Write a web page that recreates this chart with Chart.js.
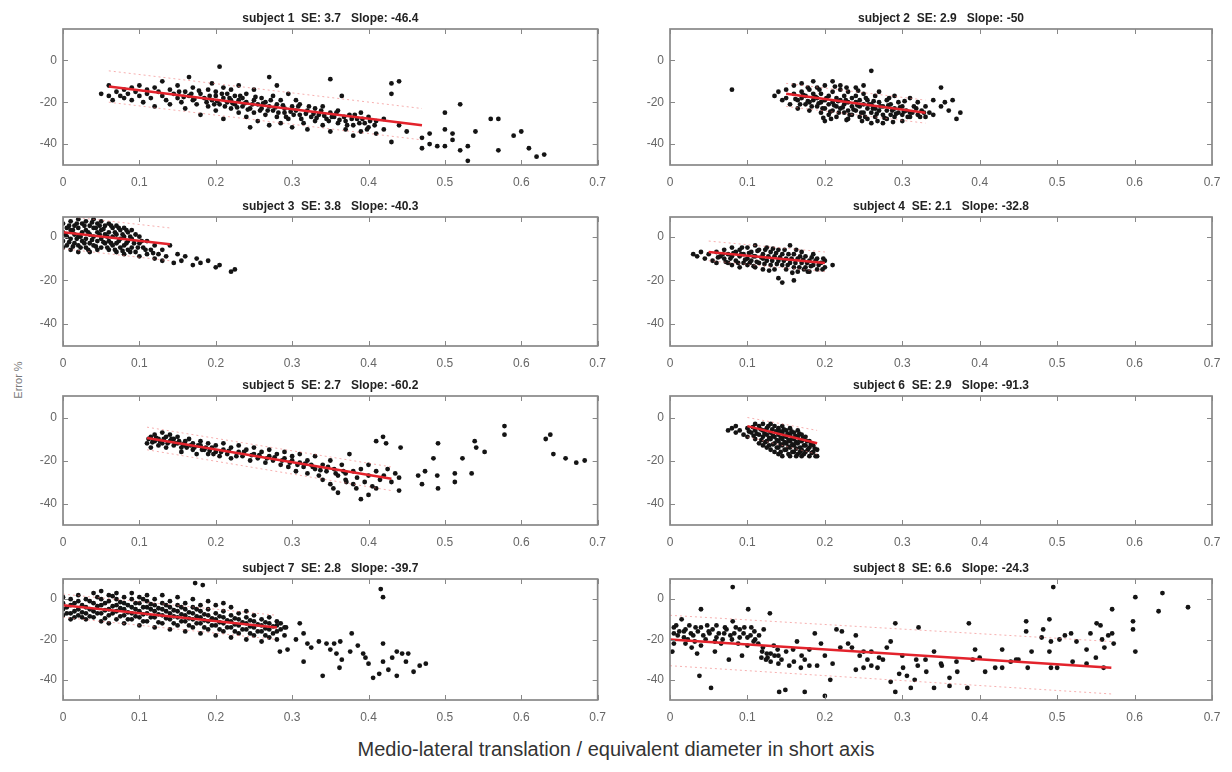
<!DOCTYPE html>
<html>
<head>
<meta charset="utf-8">
<script src="https://cdn.jsdelivr.net/npm/chart.js@4.4.1/dist/chart.umd.min.js"></script>
<style>
  body { margin:0; background:#fff; width:1232px; height:772px; position:relative; overflow:hidden; font-family:"Liberation Sans", Arial, sans-serif; }
  canvas { position:absolute; }
  #ylab { position:absolute; left:18px; top:380px; transform:translate(-50%,-50%) rotate(-90deg); font-size:11px; color:#777; white-space:nowrap; }
  #xlab { position:absolute; left:0; width:1232px; top:738px; text-align:center; font-size:20px; color:#333; }
</style>
</head>
<body>
<div id="ylab">Error %</div>
<div id="xlab">Medio-lateral translation / equivalent diameter in short axis</div>
<script>
// --- data ---
const titles = [
  'subject 1  SE: 3.7   Slope: -46.4', 'subject 2  SE: 2.9   Slope: -50',
  'subject 3  SE: 3.8   Slope: -40.3', 'subject 4  SE: 2.1   Slope: -32.8',
  'subject 5  SE: 2.7   Slope: -60.2', 'subject 6  SE: 2.9   Slope: -91.3',
  'subject 7  SE: 2.8   Slope: -39.7', 'subject 8  SE: 6.6   Slope: -24.3'
];
const xTickVals = [0, 0.1, 0.2, 0.3, 0.4, 0.5, 0.6, 0.7];
const yTickVals = [-40, -20, 0];
const yMaxByRow = [15, 9, 10, 10];

// regression line [x0, y0, x1, y1]
const fitLines = [
  [0.06, -12.5, 0.47, -31], [0.15, -16, 0.33, -25],
  [0, 2, 0.14, -3.5],       [0.05, -7, 0.2, -12],
  [0.11, -9.5, 0.43, -28.5],[0.1, -4, 0.19, -12],
  [0, -3, 0.28, -14],       [0, -20, 0.57, -34]
];
// dashed prediction bounds
const bandUpper = [
  [0.06, -5, 0.47, -23],  [0.15, -11, 0.33, -19],
  [0, 9.5, 0.14, 4],      [0.05, -2, 0.2, -7],
  [0.11, -4.5, 0.43, -23],[0.1, 0, 0.19, -6],
  [0, 2.5, 0.28, -8],     [0, -8, 0.57, -21]
];
const bandLower = [
  [0.06, -20, 0.47, -38], [0.15, -22, 0.33, -30],
  [0, -5.5, 0.14, -11],   [0.05, -11, 0.2, -16],
  [0.11, -15, 0.43, -34], [0.1, -9, 0.19, -17],
  [0, -9, 0.28, -20],     [0, -33, 0.57, -47]
];

const s1 = [[0.05,-16],[0.06,-12],[0.06,-17],[0.065,-19],[0.07,-15],[0.075,-17],[0.08,-14],[0.08,-18],[0.085,-16],[0.09,-13],[0.09,-19],[0.095,-15],[0.1,-17],[0.1,-12],[0.105,-20],[0.11,-14],[0.11,-16],[0.115,-18],[0.12,-13],[0.12,-22],[0.125,-15],[0.13,-17],[0.13,-10],[0.135,-19],[0.14,-14],[0.14,-21],[0.145,-16],[0.15,-18],[0.15,-12],[0.155,-20],[0.16,-15],[0.16,-23],[0.165,-17],[0.165,-8],[0.17,-19],[0.17,-13],[0.175,-21],[0.18,-16],[0.18,-26],[0.185,-18],[0.19,-14],[0.19,-22],[0.195,-19],[0.195,-11],[0.2,-17],[0.2,-24],[0.2,-15],[0.205,-21],[0.205,-3],[0.21,-18],[0.21,-13],[0.21,-28],[0.215,-20],[0.215,-16],[0.22,-23],[0.22,-19],[0.22,-14],[0.225,-21],[0.225,-17],[0.23,-25],[0.23,-19],[0.23,-12],[0.235,-22],[0.235,-18],[0.24,-20],[0.24,-16],[0.24,-27],[0.245,-23],[0.245,-32],[0.25,-19],[0.25,-25],[0.25,-14],[0.255,-21],[0.255,-29],[0.26,-23],[0.26,-18],[0.265,-26],[0.265,-20],[0.27,-22],[0.27,-8],[0.27,-31],[0.275,-17],[0.275,-24],[0.28,-21],[0.28,-27],[0.28,-12],[0.285,-19],[0.285,-30],[0.29,-23],[0.29,-25],[0.295,-16],[0.295,-28],[0.3,-22],[0.3,-32],[0.305,-24],[0.305,-19],[0.31,-26],[0.31,-21],[0.315,-30],[0.32,-24],[0.32,-33],[0.325,-27],[0.33,-23],[0.33,-29],[0.335,-26],[0.34,-31],[0.34,-22],[0.345,-28],[0.35,-9],[0.35,-25],[0.35,-34],[0.355,-27],[0.36,-30],[0.36,-24],[0.365,-17],[0.37,-29],[0.37,-33],[0.375,-26],[0.38,-31],[0.38,-36],[0.385,-28],[0.39,-25],[0.39,-34],[0.395,-30],[0.4,-27],[0.4,-32],[0.41,-29],[0.41,-35],[0.42,-33],[0.42,-28],[0.43,-11],[0.43,-16],[0.43,-39],[0.44,-10],[0.44,-31],[0.45,-34],[0.47,-37],[0.47,-42],[0.48,-35],[0.48,-40],[0.49,-41],[0.5,-25],[0.5,-33],[0.5,-41],[0.51,-38],[0.51,-35],[0.52,-21],[0.52,-43],[0.53,-41],[0.53,-48],[0.54,-34],[0.56,-28],[0.57,-28],[0.57,-43],[0.59,-36],[0.6,-34],[0.61,-42],[0.62,-46],[0.63,-45],
  [0.152,-15],[0.158,-17.5],[0.168,-16],[0.172,-18.5],[0.178,-14.5],[0.188,-20],[0.192,-17],[0.198,-21],[0.202,-19.5],[0.208,-16],[0.212,-22],[0.218,-18],[0.222,-20.5],[0.228,-22.5],[0.232,-17],[0.238,-20.5],[0.242,-23.5],[0.248,-21],[0.252,-17.5],[0.258,-24],[0.262,-20.5],[0.268,-24],[0.272,-19],[0.278,-22.5],[0.282,-25],[0.288,-21.5],[0.292,-27],[0.298,-24.5],[0.302,-26],[0.308,-22],[0.312,-28],[0.318,-25.5],[0.322,-22],[0.328,-25.5],[0.332,-27.5],[0.338,-24],[0.342,-26.5],[0.348,-29],[0.352,-27],[0.358,-25],[0.362,-28.5],[0.368,-27],[0.372,-31],[0.378,-28],[0.382,-26],[0.388,-30],[0.392,-28],[0.398,-33],[0.402,-29],[0.408,-31]];

const s2 = [[0.08,-14],[0.135,-17],[0.14,-15],[0.145,-19],[0.15,-14],[0.15,-18],[0.155,-21],[0.16,-16],[0.16,-12],[0.165,-19],[0.165,-23],[0.17,-15],[0.17,-18],[0.17,-11],[0.175,-21],[0.175,-17],[0.18,-14],[0.18,-20],[0.18,-24],[0.185,-16],[0.185,-19],[0.185,-10],[0.19,-22],[0.19,-18],[0.19,-13],[0.195,-20],[0.195,-25],[0.195,-16],[0.2,-19],[0.2,-23],[0.2,-12],[0.2,-29],[0.205,-17],[0.205,-21],[0.205,-26],[0.21,-15],[0.21,-20],[0.21,-24],[0.21,-10],[0.215,-18],[0.215,-22],[0.215,-27],[0.22,-14],[0.22,-19],[0.22,-23],[0.22,-12],[0.225,-21],[0.225,-25],[0.225,-17],[0.23,-20],[0.23,-24],[0.23,-15],[0.23,-28],[0.235,-18],[0.235,-22],[0.235,-26],[0.24,-13],[0.24,-20],[0.24,-24],[0.24,-17],[0.245,-22],[0.245,-27],[0.245,-19],[0.25,-21],[0.25,-25],[0.25,-16],[0.25,-12],[0.255,-23],[0.255,-19],[0.255,-28],[0.26,-5],[0.26,-21],[0.26,-25],[0.26,-30],[0.265,-17],[0.265,-23],[0.265,-27],[0.27,-20],[0.27,-24],[0.27,-15],[0.275,-22],[0.275,-26],[0.275,-30],[0.28,-19],[0.28,-24],[0.28,-28],[0.285,-21],[0.285,-26],[0.29,-17],[0.29,-23],[0.29,-27],[0.295,-25],[0.295,-20],[0.3,-22],[0.3,-26],[0.3,-29],[0.305,-24],[0.31,-18],[0.31,-25],[0.31,-27],[0.315,-22],[0.32,-26],[0.32,-20],[0.325,-24],[0.33,-27],[0.33,-22],[0.335,-25],[0.34,-19],[0.34,-26],[0.35,-22],[0.35,-13],[0.355,-20],[0.36,-24],[0.365,-19],[0.37,-28],[0.375,-25],
  [0.162,-18.5],[0.168,-21],[0.172,-16.5],[0.178,-19.5],[0.183,-22],[0.188,-17.5],[0.192,-20.5],[0.197,-23],[0.202,-18],[0.207,-24.5],[0.212,-21.5],[0.217,-19.5],[0.218,-25],[0.223,-22.5],[0.227,-19],[0.232,-26],[0.237,-23.5],[0.242,-21.5],[0.247,-25],[0.252,-27],[0.257,-21],[0.262,-23],[0.267,-25.5],[0.272,-22],[0.277,-27.5],[0.282,-21.5],[0.287,-24],[0.292,-25.5],[0.297,-22.5],[0.302,-24.5],[0.307,-27],[0.313,-25],[0.318,-23],[0.323,-27],[0.328,-25],[0.198,-27.5],[0.208,-28],[0.228,-28.5],[0.248,-29],[0.268,-29],[0.288,-29.5],[0.243,-14.5],[0.228,-13],[0.213,-12.5],[0.193,-14],[0.253,-18],[0.263,-19.5],[0.283,-18],[0.303,-19.5],[0.178,-13]];

const s3 = [[0,6],[0,2],[0,-2],[0,-5],[0.005,4],[0.005,0],[0.005,-4],[0.01,7],[0.01,3],[0.01,-1],[0.01,-6],[0.015,5],[0.015,1],[0.015,-3],[0.02,8],[0.02,4],[0.02,0],[0.02,-4],[0.02,-7],[0.025,6],[0.025,2],[0.025,-2],[0.03,7],[0.03,3],[0.03,-1],[0.03,-5],[0.035,5],[0.035,1],[0.035,-3],[0.035,-7],[0.04,8],[0.04,4],[0.04,0],[0.04,-4],[0.045,6],[0.045,2],[0.045,-2],[0.045,-6],[0.05,7],[0.05,3],[0.05,-1],[0.05,-5],[0.055,5],[0.055,1],[0.055,-3],[0.06,6],[0.06,2],[0.06,-2],[0.06,-6],[0.065,4],[0.065,0],[0.065,-4],[0.07,5],[0.07,1],[0.07,-3],[0.07,-7],[0.075,3],[0.075,-1],[0.075,-5],[0.08,4],[0.08,0],[0.08,-4],[0.08,-8],[0.085,2],[0.085,-2],[0.085,-6],[0.09,3],[0.09,-1],[0.09,-5],[0.095,1],[0.095,-7],[0.1,-3],[0.1,-9],[0.1,0],[0.105,-5],[0.11,-8],[0.11,-2],[0.115,-6],[0.12,-10],[0.12,-4],[0.125,-8],[0.13,-6],[0.13,-11],[0.135,-9],[0.14,-4],[0.145,-12],[0.15,-8],[0.155,-11],[0.16,-9],[0.17,-13],[0.175,-10],[0.18,-12],[0.19,-11],[0.2,-14],[0.205,-13],[0.22,-16],[0.225,-15],
  [0.003,1],[0.008,5],[0.008,-2.5],[0.013,3],[0.013,-4.5],[0.018,6],[0.018,-1],[0.023,0],[0.023,-5],[0.028,5],[0.028,-3],[0.033,2],[0.033,-6],[0.038,6.5],[0.038,-1.5],[0.043,4],[0.043,-4.5],[0.048,1],[0.048,5],[0.053,-2.5],[0.053,3.5],[0.058,0],[0.058,-5],[0.063,5],[0.063,-3],[0.068,2],[0.068,-6],[0.073,4],[0.073,-2],[0.078,1],[0.078,-6.5],[0.083,3],[0.083,-3],[0.088,0],[0.088,-7],[0.093,-3],[0.098,-5],[0.103,-2],[0.108,-6],[0.118,-7.5]];

const s4 = [[0.03,-8],[0.035,-9],[0.04,-7],[0.045,-10],[0.05,-8],[0.055,-11],[0.06,-7],[0.06,-12],[0.065,-9],[0.07,-6],[0.07,-10],[0.075,-8],[0.075,-12],[0.08,-5],[0.08,-9],[0.08,-13],[0.085,-7],[0.085,-11],[0.09,-6],[0.09,-9],[0.09,-14],[0.095,-8],[0.095,-12],[0.1,-5],[0.1,-10],[0.1,-13],[0.105,-7],[0.105,-11],[0.11,-4],[0.11,-9],[0.11,-14],[0.115,-6],[0.115,-12],[0.12,-8],[0.12,-10],[0.12,-15],[0.125,-5],[0.125,-11],[0.13,-7],[0.13,-13],[0.135,-9],[0.135,-15],[0.14,-6],[0.14,-11],[0.14,-19],[0.145,-8],[0.145,-13],[0.145,-21],[0.15,-10],[0.15,-15],[0.155,-4],[0.155,-12],[0.16,-8],[0.16,-14],[0.16,-20],[0.165,-10],[0.165,-16],[0.17,-7],[0.17,-12],[0.175,-9],[0.175,-14],[0.18,-11],[0.18,-16],[0.185,-8],[0.185,-13],[0.19,-10],[0.19,-15],[0.195,-12],[0.2,-11],[0.2,-14],[0.21,-13],
  [0.062,-9.5],[0.068,-8],[0.072,-11.5],[0.078,-10],[0.082,-7.5],[0.088,-12],[0.092,-8],[0.097,-10.5],[0.102,-7.5],[0.103,-12],[0.108,-9],[0.112,-11.5],[0.113,-6.5],[0.118,-9.5],[0.122,-12.5],[0.123,-6],[0.127,-9],[0.132,-11],[0.133,-5.5],[0.137,-7.5],[0.138,-12.5],[0.142,-9.5],[0.147,-11],[0.148,-6],[0.152,-13],[0.153,-8],[0.157,-10],[0.162,-12],[0.163,-6],[0.167,-14],[0.168,-9],[0.172,-10.5],[0.173,-15],[0.177,-12],[0.182,-13.5],[0.183,-9.5],[0.188,-11],[0.192,-13],[0.197,-15],[0.198,-10],[0.128,-15.5],[0.108,-13.5],[0.158,-16.5],[0.178,-16],[0.093,-5]];

const s5 = [[0.11,-12],[0.115,-9],[0.115,-14],[0.12,-8],[0.12,-11],[0.125,-13],[0.125,-10],[0.13,-7],[0.13,-12],[0.135,-9],[0.135,-14],[0.14,-11],[0.14,-8],[0.145,-13],[0.145,-10],[0.15,-12],[0.15,-9],[0.155,-14],[0.155,-16],[0.16,-11],[0.16,-13],[0.165,-10],[0.17,-15],[0.17,-12],[0.175,-17],[0.18,-13],[0.18,-11],[0.185,-15],[0.19,-12],[0.19,-17],[0.195,-14],[0.2,-16],[0.2,-13],[0.205,-18],[0.21,-15],[0.21,-12],[0.215,-17],[0.22,-14],[0.22,-19],[0.23,-16],[0.23,-13],[0.235,-18],[0.24,-15],[0.245,-20],[0.25,-17],[0.25,-14],[0.255,-19],[0.26,-16],[0.265,-21],[0.27,-18],[0.27,-15],[0.275,-20],[0.28,-17],[0.285,-22],[0.29,-19],[0.29,-16],[0.295,-23],[0.3,-20],[0.3,-18],[0.305,-25],[0.31,-21],[0.31,-17],[0.315,-23],[0.32,-20],[0.32,-26],[0.325,-22],[0.33,-24],[0.33,-18],[0.335,-27],[0.34,-22],[0.34,-29],[0.345,-25],[0.35,-20],[0.35,-31],[0.355,-24],[0.36,-27],[0.36,-35],[0.365,-22],[0.37,-26],[0.37,-29],[0.375,-17],[0.38,-25],[0.38,-31],[0.385,-28],[0.39,-24],[0.39,-38],[0.395,-30],[0.4,-27],[0.4,-22],[0.405,-32],[0.41,-25],[0.415,-29],[0.42,-27],[0.425,-24],[0.43,-30],[0.435,-26],[0.44,-28],[0.578,-4],[0.578,-8],[0.638,-8],[0.632,-10],[0.642,-17],[0.658,-19],[0.672,-21],[0.683,-20],[0.539,-11],[0.541,-14],[0.552,-16],[0.491,-12],[0.523,-19],[0.485,-19],[0.474,-25],[0.49,-27],[0.513,-26],[0.535,-26],[0.513,-30],[0.491,-33],[0.47,-31],[0.465,-27],[0.442,-14],[0.419,-9],[0.41,-11],[0.423,-12],[0.44,-34],[0.4,-36],[0.41,-33],[0.384,-33],[0.354,-33],[0.371,-30],
  [0.112,-10],[0.117,-11.5],[0.122,-9.5],[0.127,-11],[0.132,-10],[0.137,-12],[0.142,-10],[0.147,-12],[0.152,-11],[0.157,-12.5],[0.162,-14],[0.167,-13],[0.172,-14],[0.177,-13],[0.182,-15],[0.187,-14],[0.192,-15.5],[0.197,-17],[0.207,-16],[0.217,-15.5],[0.227,-18],[0.237,-16],[0.247,-17.5],[0.257,-17.5],[0.267,-19],[0.277,-18.5],[0.287,-20],[0.297,-21],[0.307,-22],[0.317,-21.5],[0.327,-23],[0.337,-24.5],[0.347,-23],[0.357,-26],[0.367,-25]];

const s6 = [[0.075,-6],[0.08,-5],[0.085,-4],[0.085,-7],[0.09,-6],[0.095,-8],[0.1,-5],[0.1,-9],[0.105,-7],[0.11,-3],[0.11,-6],[0.11,-10],[0.115,-4],[0.115,-8],[0.115,-12],[0.12,-3],[0.12,-6],[0.12,-9],[0.12,-13],[0.125,-5],[0.125,-8],[0.125,-11],[0.125,-14],[0.13,-3],[0.13,-7],[0.13,-10],[0.13,-15],[0.135,-4],[0.135,-9],[0.135,-12],[0.135,-16],[0.14,-5],[0.14,-8],[0.14,-11],[0.14,-14],[0.14,-17],[0.145,-4],[0.145,-7],[0.145,-10],[0.145,-13],[0.145,-18],[0.15,-6],[0.15,-9],[0.15,-12],[0.15,-15],[0.155,-5],[0.155,-8],[0.155,-11],[0.155,-14],[0.155,-18],[0.16,-7],[0.16,-10],[0.16,-13],[0.16,-16],[0.165,-6],[0.165,-9],[0.165,-12],[0.165,-17],[0.17,-8],[0.17,-11],[0.17,-15],[0.17,-18],[0.175,-9],[0.175,-13],[0.175,-16],[0.18,-11],[0.18,-14],[0.18,-18],[0.185,-13],[0.185,-16],[0.19,-15],[0.19,-18],
  [0.102,-6.5],[0.107,-4.5],[0.108,-8.5],[0.112,-7.5],[0.117,-5.5],[0.118,-10.5],[0.122,-7.5],[0.123,-11.5],[0.127,-4],[0.128,-9.5],[0.128,-13],[0.132,-5.5],[0.133,-8.5],[0.133,-12.5],[0.137,-6.5],[0.138,-10.5],[0.138,-14],[0.142,-6.5],[0.143,-9.5],[0.143,-12.5],[0.143,-16],[0.147,-5.5],[0.148,-8.5],[0.148,-11.5],[0.148,-15],[0.152,-7.5],[0.153,-10.5],[0.153,-13.5],[0.153,-17],[0.157,-6.5],[0.158,-9.5],[0.158,-12.5],[0.158,-16],[0.162,-8.5],[0.163,-11.5],[0.163,-14.5],[0.163,-18],[0.167,-7.5],[0.168,-10.5],[0.168,-14],[0.168,-16],[0.172,-9.5],[0.173,-13],[0.173,-17],[0.177,-11],[0.178,-15],[0.182,-12.5],[0.183,-16.5],[0.187,-14.5],[0.188,-18]];

const s7 = [[0,-2],[0,-5],[0,-8],[0,1],[0.01,-3],[0.01,-7],[0.01,0],[0.01,-10],[0.02,-1],[0.02,-5],[0.02,-8],[0.02,2],[0.03,-4],[0.03,-7],[0.03,0],[0.03,-10],[0.04,-2],[0.04,-6],[0.04,-9],[0.04,3],[0.05,-3],[0.05,-7],[0.05,0],[0.05,-11],[0.05,4],[0.06,-1],[0.06,-5],[0.06,-8],[0.06,2],[0.06,-12],[0.07,-3],[0.07,-6],[0.07,-10],[0.07,0],[0.07,3],[0.08,-2],[0.08,-5],[0.08,-8],[0.08,-12],[0.08,1],[0.09,-4],[0.09,-7],[0.09,-10],[0.09,0],[0.09,3],[0.1,-2],[0.1,-6],[0.1,-9],[0.1,-13],[0.1,1],[0.11,-4],[0.11,-7],[0.11,-11],[0.11,-1],[0.11,2],[0.12,-3],[0.12,-6],[0.12,-9],[0.12,-14],[0.12,0],[0.13,-5],[0.13,-8],[0.13,-12],[0.13,-2],[0.13,2],[0.14,-4],[0.14,-7],[0.14,-10],[0.14,-15],[0.14,-1],[0.15,-6],[0.15,-9],[0.15,-13],[0.15,-3],[0.15,1],[0.16,-5],[0.16,-8],[0.16,-11],[0.16,-16],[0.16,-2],[0.17,-7],[0.17,-10],[0.17,-14],[0.17,-4],[0.17,0],[0.18,-6],[0.18,-9],[0.18,-12],[0.18,-17],[0.18,-3],[0.19,-8],[0.19,-11],[0.19,-15],[0.19,-5],[0.19,-1],[0.2,-7],[0.2,-10],[0.2,-13],[0.2,-18],[0.2,-3],[0.21,-9],[0.21,-12],[0.21,-16],[0.21,-6],[0.21,-2],[0.22,-8],[0.22,-11],[0.22,-14],[0.22,-19],[0.22,-4],[0.23,-10],[0.23,-13],[0.23,-17],[0.23,-7],[0.24,-9],[0.24,-12],[0.24,-15],[0.24,-20],[0.24,-6],[0.25,-11],[0.25,-14],[0.25,-18],[0.25,-8],[0.26,-10],[0.26,-13],[0.26,-16],[0.26,-21],[0.27,-12],[0.27,-15],[0.27,-19],[0.27,-9],[0.28,-13],[0.28,-16],[0.28,-20],[0.28,-11],[0.29,-14],[0.29,-18],[0.173,8],[0.183,7],[0.416,5],[0.419,1],[0.419,-22],[0.31,-12],[0.292,-14],[0.315,-17],[0.305,-20],[0.32,-22],[0.325,-24],[0.335,-21],[0.345,-22],[0.355,-22],[0.363,-21],[0.35,-25],[0.358,-27],[0.365,-30],[0.362,-34],[0.34,-38],[0.315,-31],[0.294,-25],[0.284,-26],[0.376,-26],[0.386,-23],[0.393,-27],[0.396,-29],[0.4,-32],[0.406,-39],[0.414,-37],[0.426,-35],[0.419,-31],[0.437,-26],[0.444,-27],[0.449,-31],[0.437,-38],[0.459,-36],[0.467,-33],[0.475,-32],[0.431,-29],[0.378,-17],[0.452,-27],
  [0.005,-4],[0.005,-7],[0.015,-2],[0.015,-6],[0.015,-9],[0.025,-3],[0.025,-6.5],[0.025,-9],[0.035,-1],[0.035,-5],[0.035,-8.5],[0.045,-3.5],[0.045,-7],[0.045,1],[0.055,-2],[0.055,-5.5],[0.055,-9.5],[0.065,-3.5],[0.065,-7],[0.065,1.5],[0.075,-1.5],[0.075,-4.5],[0.075,-8.5],[0.085,-3],[0.085,-6.5],[0.085,-10],[0.095,-2],[0.095,-5],[0.095,-8.5],[0.105,-4],[0.105,-7.5],[0.105,-11],[0.105,0],[0.115,-5],[0.115,-9],[0.115,-2.5],[0.125,-4.5],[0.125,-7.5],[0.125,-11.5],[0.135,-6],[0.135,-9.5],[0.135,-3],[0.145,-5.5],[0.145,-8.5],[0.145,-12],[0.155,-7.5],[0.155,-11],[0.155,-4],[0.165,-6.5],[0.165,-9.5],[0.165,-13],[0.175,-8.5],[0.175,-12],[0.175,-5],[0.185,-7.5],[0.185,-10.5],[0.185,-14],[0.195,-9.5],[0.195,-13],[0.205,-8.5],[0.205,-11.5],[0.205,-15],[0.215,-10.5],[0.215,-14],[0.225,-9.5],[0.225,-12.5],[0.225,-16],[0.235,-11.5],[0.235,-15],[0.245,-10.5],[0.245,-13.5],[0.245,-17],[0.255,-12.5],[0.255,-16],[0.265,-11.5],[0.265,-14.5],[0.265,-18],[0.275,-13.5],[0.275,-17],[0.285,-15],[0.285,-12]];

const s8 = [[0.081,6],[0.601,1],[0.636,3],[0.631,-6],[0.669,-4],[0.495,6],[0.598,-11],[0.598,-15],[0.601,-26],[0.571,-5],[0.49,-10],[0.46,-11],[0.46,-16],[0.467,-26],[0.482,-15],[0.48,-19],[0.492,-21],[0.503,-20],[0.51,-18],[0.518,-17],[0.525,-21],[0.538,-25],[0.543,-17],[0.551,-12],[0.556,-13],[0.558,-20],[0.561,-24],[0.566,-18],[0.571,-17],[0.573,-22],[0.538,-32],[0.49,-26],[0.492,-34],[0.462,-34],[0.447,-30],[0.429,-25],[0.429,-34],[0.407,-36],[0.394,-25],[0.391,-30],[0.386,-12],[0.384,-44],[0.371,-36],[0.361,-39],[0.361,-43],[0.351,-33],[0.341,-26],[0.341,-44],[0.331,-36],[0.318,-30],[0.316,-40],[0.311,-44],[0.306,-38],[0.301,-34],[0.296,-37],[0.291,-46],[0.285,-41],[0.285,-21],[0.291,-12],[0.321,-14],[0.275,-30],[0.268,-34],[0.26,-26],[0.255,-30],[0.25,-34],[0.245,-28],[0.24,-18],[0.235,-24],[0.23,-22],[0.222,-16],[0.215,-15],[0.21,-32],[0.207,-40],[0.2,-48],[0.195,-22],[0.187,-17],[0.18,-25],[0.174,-30],[0.169,-34],[0.174,-46],[0.164,-21],[0.159,-25],[0.154,-33],[0.149,-45],[0.141,-46],[0.144,-30],[0.139,-25],[0.134,-23],[0.129,-7],[0.126,-29],[0.121,-15],[0.119,-26],[0.114,-22],[0.109,-16],[0.104,-18],[0.101,-5],[0.096,-14],[0.093,-28],[0.088,-22],[0.083,-17],[0.081,-11],[0.076,-30],[0.071,-14],[0.066,-22],[0.058,-26],[0.053,-44],[0.051,-17],[0.046,-20],[0.04,-5],[0.038,-38],[0.035,-27],[0.033,-14],[0.028,-24],[0.023,-20],[0.018,-16],[0.015,-10],[0.008,-13],[0.005,-22],[0.003,-26],[0.005,-17],[0.01,-18],[0.02,-15],[0.02,-22],[0.03,-18],[0.04,-14],[0.04,-23],[0.05,-16],[0.06,-19],[0.06,-13],[0.07,-17],[0.08,-20],[0.09,-15],[0.1,-19],[0.1,-23],[0.11,-20],[0.12,-24],[0.13,-27],[0.14,-28],[0.15,-26],[0.16,-31],[0.17,-28],[0.18,-33],[0.19,-33],[0.2,-28],[0.22,-24],[0.24,-35],[0.25,-26],[0.26,-33],[0.27,-29],[0.28,-24],[0.3,-28],[0.32,-33],[0.33,-30],[0.35,-32],[0.37,-31],[0.4,-29],[0.42,-34],[0.44,-31],[0.45,-30],[0.5,-34],[0.52,-31],[0.55,-29],[0.56,-34],
  [0.005,-14],[0.012,-16],[0.018,-19],[0.025,-13],[0.027,-17],[0.032,-21],[0.036,-16],[0.043,-18],[0.048,-13],[0.055,-15],[0.058,-21],[0.063,-17],[0.068,-20],[0.073,-15],[0.078,-18],[0.085,-14],[0.09,-19],[0.095,-17],[0.105,-14],[0.108,-21],[0.115,-18],[0.118,-29],[0.124,-30],[0.13,-31],[0.135,-28],[0.14,-32],[0.125,-27]];

const subjectPts = [s1, s2, s3, s4, s5, s6, s7, s8];

// --- layout (page pixels) ---
const colLeft = [0, 616];
const boxLeft = [63, 670];
const boxRight = [605, 1212];
const rowTop = [29, 217, 396, 579];
const rowBottom = [165, 346, 525, 700];
const PAD_T = 28, PAD_B = 28;
const FONT = '"Liberation Sans", Arial, sans-serif';

// MATLAB-like frame: box, inward ticks on all four sides, bold title
const matlabFrame = {
  id: 'matlabFrame',
  afterDraw(chart, args, opts) {
    const {ctx, chartArea: a, scales: {x, y}} = chart;
    ctx.save();
    ctx.strokeStyle = '#888';
    ctx.lineWidth = 1;
    ctx.beginPath();
    x.ticks.forEach(t => {
      const px = Math.round(x.getPixelForValue(t.value)) + 0.5;
      ctx.moveTo(px, a.bottom); ctx.lineTo(px, a.bottom - 5);
      ctx.moveTo(px, a.top); ctx.lineTo(px, a.top + 5);
    });
    y.ticks.forEach(t => {
      const py = Math.round(y.getPixelForValue(t.value)) + 0.5;
      ctx.moveTo(a.left, py); ctx.lineTo(a.left + 5, py);
      ctx.moveTo(a.right, py); ctx.lineTo(a.right - 5, py);
    });
    ctx.stroke();
    ctx.lineWidth = 1.7;
    ctx.strokeRect(a.left, a.top, a.right - a.left, a.bottom - a.top);
    ctx.fillStyle = '#222';
    ctx.font = 'bold 12px ' + FONT;
    ctx.textAlign = 'center';
    ctx.textBaseline = 'bottom';
    ctx.fillText(opts.text, (a.left + a.right) / 2, a.top - 4);
    ctx.restore();
  }
};

function seg(s) { return [{x: s[0], y: s[1]}, {x: s[2], y: s[3]}]; }

for (let i = 0; i < 8; i++) {
  const col = i % 2, row = Math.floor(i / 2);
  const h = rowBottom[row] - rowTop[row] + PAD_T + PAD_B;
  const cv = document.createElement('canvas');
  cv.width = 616; cv.height = h;
  cv.style.left = colLeft[col] + 'px';
  cv.style.top = (rowTop[row] - PAD_T) + 'px';
  document.body.appendChild(cv);

  const lineBase = {showLine: true, pointRadius: 0, fill: false};
  new Chart(cv, {
    type: 'scatter',
    data: {
      datasets: [
        {data: subjectPts[i].map(p => ({x: p[0], y: p[1]})), pointRadius: 2.4, pointBackgroundColor: '#141414', pointBorderWidth: 0, order: 3},
        Object.assign({data: seg(bandUpper[i]), borderColor: 'rgba(238,110,110,0.55)', borderWidth: 1, borderDash: [2, 3], order: 2}, lineBase),
        Object.assign({data: seg(bandLower[i]), borderColor: 'rgba(238,110,110,0.55)', borderWidth: 1, borderDash: [2, 3], order: 2}, lineBase),
        Object.assign({data: seg(fitLines[i]), borderColor: '#e3232c', borderWidth: 2.5, order: 1}, lineBase)
      ]
    },
    options: {
      responsive: false,
      animation: false,
      devicePixelRatio: 1,
      layout: {padding: {left: 0, top: PAD_T, right: colLeft[col] + 616 - boxRight[col], bottom: 0}},
      plugins: {legend: {display: false}, tooltip: {enabled: false}, matlabFrame: {text: titles[i]}},
      scales: {
        x: {
          type: 'linear', min: 0, max: 0.7,
          afterBuildTicks: s => { s.ticks = xTickVals.map(v => ({value: v})); },
          afterFit: s => { s.height = PAD_B; },
          ticks: {color: '#666', font: {size: 12, family: FONT}, padding: 10, maxRotation: 0, autoSkip: false, callback: v => String(+v.toFixed(1))},
          grid: {display: false, drawTicks: false},
          border: {display: false}
        },
        y: {
          type: 'linear', min: -50, max: yMaxByRow[row],
          afterBuildTicks: s => { s.ticks = yTickVals.map(v => ({value: v})); },
          afterFit: s => { s.width = boxLeft[col] - colLeft[col]; },
          ticks: {color: '#666', font: {size: 12, family: FONT}, padding: 6},
          grid: {display: false, drawTicks: false},
          border: {display: false}
        }
      }
    },
    plugins: [matlabFrame]
  });
}
</script>
</body>
</html>
